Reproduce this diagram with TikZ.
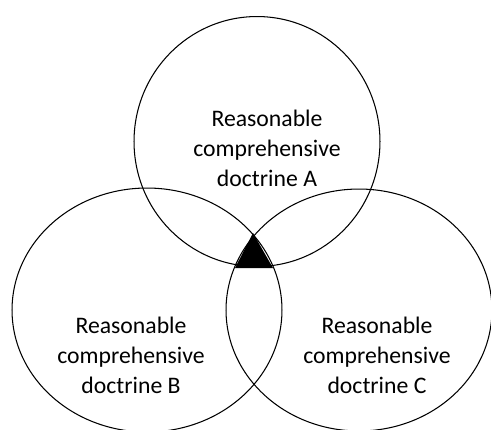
\documentclass[tikz,border=0pt]{standalone}
\usepackage{fontspec}
\setmainfont{Carlito}
\usetikzlibrary{shapes.geometric,positioning}

\begin{document}
\begin{tikzpicture}[x=0.02cm, y=-0.02cm,
    doctrine/.style={draw, ellipse, line width=0.6pt, inner sep=0pt},
    doctext/.style={align=center, font=\fontsize{13.5}{17}\selectfont}]
        \useasboundingbox (0,0) rectangle (491,430);
        % The three doctrines
        \node[doctrine, minimum width=4.92cm, minimum height=5cm] (docA) at (257,141.5) {};
        \node[doctrine, minimum width=5.4cm, minimum height=4.88cm] (docB) at (147,310) {};
        \node[doctrine, minimum width=5.32cm, minimum height=4.84cm] (docC) at (359,310) {};
        
        % Labels
        \node[doctext] (txtA) at (267,148) {Reasonable\\comprehensive\\doctrine A};
        \node[doctext] (txtB) at (131,355) {Reasonable\\comprehensive\\doctrine B};
        \node[doctext] (txtC) at (377,355) {Reasonable\\comprehensive\\doctrine C};
        
        % Overlapping consensus
        \coordinate (apex) at (253,233);
        \coordinate (baseL) at (235,268);
        \coordinate (baseR) at (273,268);
        \fill[black] (apex) -- (baseL) -- (baseR) -- cycle;
    \end{tikzpicture}
\end{document}
